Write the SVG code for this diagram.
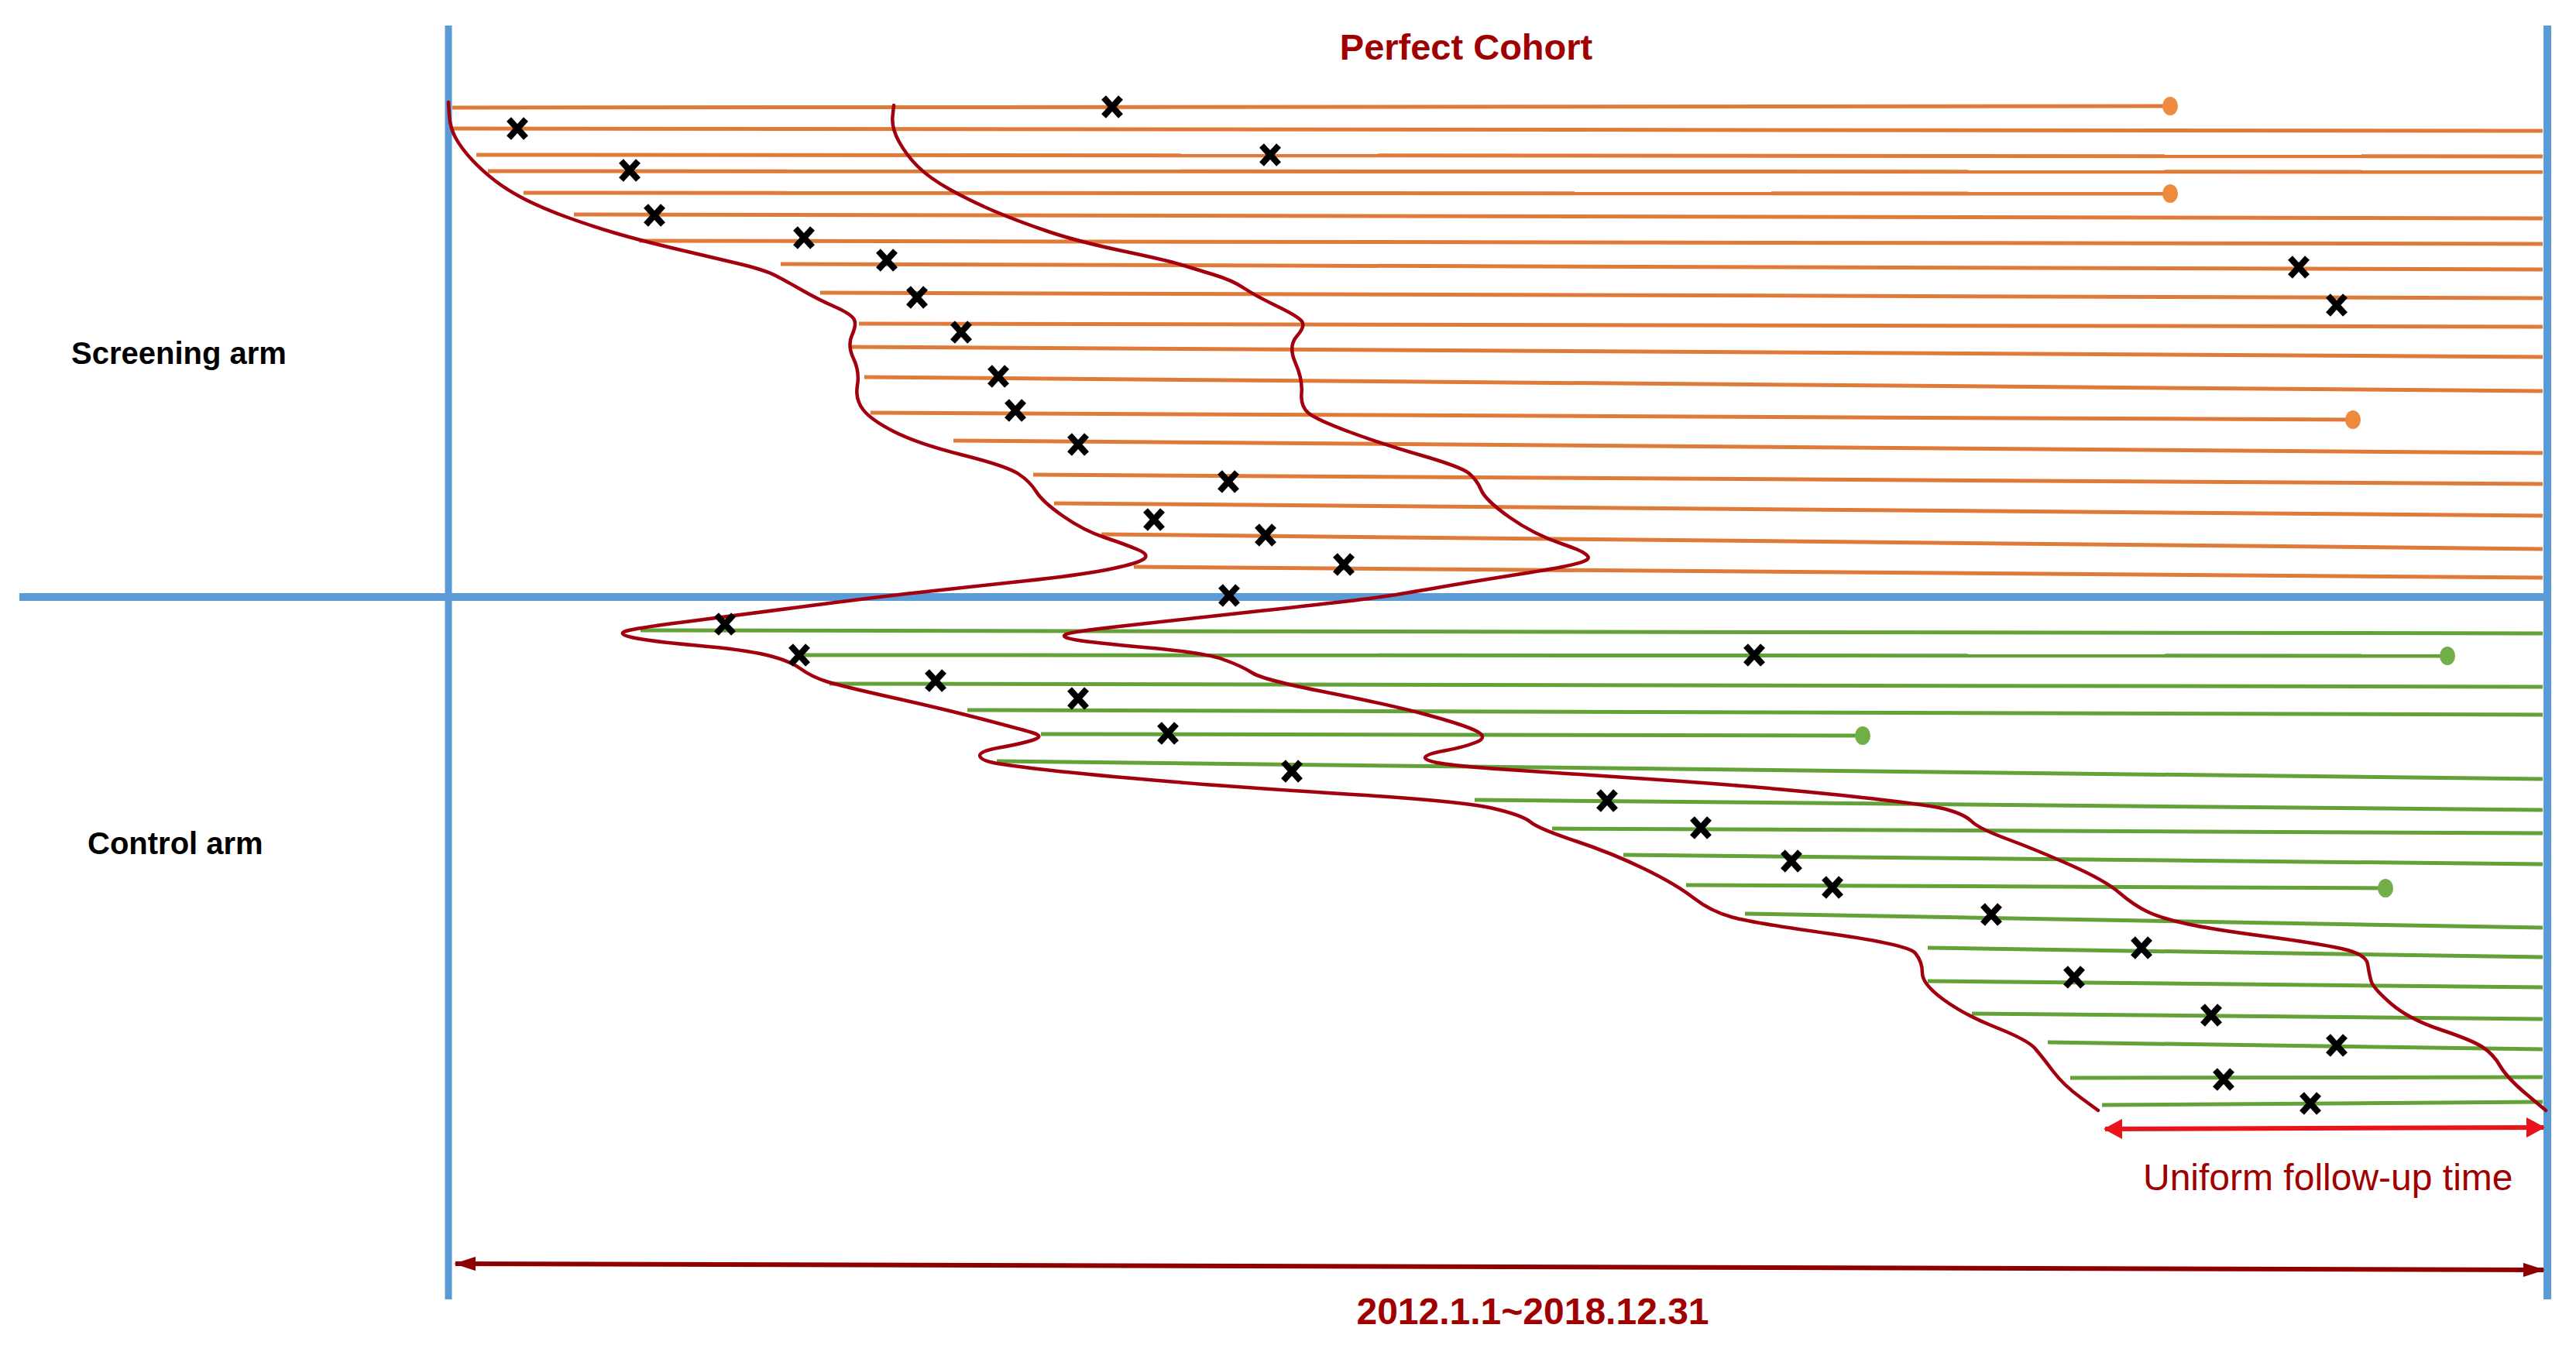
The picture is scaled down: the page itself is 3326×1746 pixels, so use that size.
<svg xmlns="http://www.w3.org/2000/svg" width="3326" height="1746" viewBox="0 0 3326 1746">
<style>
.axis{stroke:#5B9BD5;fill:none}
.or{stroke:#DF7A38;stroke-width:5;fill:none}
.gr{stroke:#62A238;stroke-width:5;fill:none}
.curve{stroke:#A3000F;stroke-width:4.5;fill:none;stroke-linejoin:round;stroke-linecap:round}
.odot{fill:#EE8A3E}
.gdot{fill:#71AE48}
.lbl{font-family:"Liberation Sans",Arial,sans-serif;font-weight:bold;fill:#000;font-size:40px}
.red{font-family:"Liberation Sans",Arial,sans-serif;fill:#A00000}
</style>
<defs>
<path id="x" d="M-11,-12 L11,12 M11,-12 L-11,12" stroke="#000" stroke-width="8" fill="none"/>
<marker id="ahDark" viewBox="0 0 28 18" refX="26" refY="9" markerWidth="28" markerHeight="18" markerUnits="userSpaceOnUse" orient="auto-start-reverse"><path d="M0,0 L28,9 L0,18 z" fill="#8E0000"/></marker>
<marker id="ahRed" viewBox="0 0 24 26" refX="22" refY="13" markerWidth="24" markerHeight="26" markerUnits="userSpaceOnUse" orient="auto-start-reverse"><path d="M0,0 L24,13 L0,26 z" fill="#E8141A"/></marker>
</defs>
<rect width="3326" height="1746" fill="#fff"/>

<g id="axes">
<line class="axis" x1="579" y1="33" x2="579" y2="1678" stroke-width="9"/>
<line class="axis" x1="3289" y1="33" x2="3289" y2="1678" stroke-width="10"/>
<line class="axis" x1="25" y1="771" x2="3294" y2="771" stroke-width="10"/>
</g>

<g id="screening-lines">
<line class="or" x1="584" y1="139" x2="2802" y2="137"/>
<line class="or" x1="584" y1="166" x2="3283" y2="169"/>
<line class="or" x1="615" y1="200" x2="3283" y2="202"/>
<line class="or" x1="630" y1="221" x2="3283" y2="222"/>
<line class="or" x1="676" y1="249" x2="2802" y2="250"/>
<line class="or" x1="741" y1="277" x2="3283" y2="282"/>
<line class="or" x1="825" y1="311" x2="3283" y2="315"/>
<line class="or" x1="1008" y1="341" x2="3283" y2="348"/>
<line class="or" x1="1059" y1="378" x2="3283" y2="385"/>
<line class="or" x1="1109" y1="418" x2="3283" y2="422"/>
<line class="or" x1="1097" y1="448" x2="3283" y2="461"/>
<line class="or" x1="1116" y1="487" x2="3283" y2="505"/>
<line class="or" x1="1124" y1="533" x2="3038" y2="542"/>
<line class="or" x1="1231" y1="569" x2="3283" y2="585"/>
<line class="or" x1="1334" y1="613" x2="3283" y2="625"/>
<line class="or" x1="1361" y1="650" x2="3283" y2="666"/>
<line class="or" x1="1422" y1="690" x2="3283" y2="709"/>
<line class="or" x1="1464" y1="732" x2="3283" y2="746"/>
<ellipse class="odot" cx="2802" cy="137" rx="10" ry="12"/>
<ellipse class="odot" cx="2802" cy="250" rx="10" ry="12"/>
<ellipse class="odot" cx="3038" cy="542" rx="10" ry="12"/>
</g>

<g id="control-lines">
<line class="gr" x1="827" y1="814" x2="3283" y2="818"/>
<line class="gr" x1="1038" y1="846" x2="3160" y2="847"/>
<line class="gr" x1="1071" y1="883" x2="3283" y2="887"/>
<line class="gr" x1="1249" y1="917" x2="3283" y2="923"/>
<line class="gr" x1="1344" y1="948" x2="2405" y2="950"/>
<line class="gr" x1="1287" y1="983" x2="3283" y2="1006"/>
<line class="gr" x1="1904" y1="1033" x2="3283" y2="1046"/>
<line class="gr" x1="2004" y1="1070" x2="3283" y2="1076"/>
<line class="gr" x1="2096" y1="1104" x2="3283" y2="1116"/>
<line class="gr" x1="2177" y1="1143" x2="3080" y2="1147"/>
<line class="gr" x1="2253" y1="1180" x2="3283" y2="1198"/>
<line class="gr" x1="2489" y1="1224" x2="3283" y2="1236"/>
<line class="gr" x1="2489" y1="1267" x2="3283" y2="1275"/>
<line class="gr" x1="2546" y1="1309" x2="3283" y2="1316"/>
<line class="gr" x1="2644" y1="1346" x2="3283" y2="1355"/>
<line class="gr" x1="2673" y1="1392" x2="3283" y2="1391"/>
<line class="gr" x1="2714" y1="1427" x2="3283" y2="1423"/>
<ellipse class="gdot" cx="3160" cy="847" rx="10" ry="12"/>
<ellipse class="gdot" cx="2405" cy="950" rx="10" ry="12"/>
<ellipse class="gdot" cx="3080" cy="1147" rx="10" ry="12"/>
</g>

<g id="curves">
<path class="curve" d="M579,132 L580,148.5 Q581,165 588.5,178.5 Q596,192 609.5,206.5 Q623,221 640,234 Q657,247 680,258.5 Q703,270 733.5,281 Q764,292 794.5,301 Q825,310 871,321 Q917,332 951.5,340 Q986,348 1001.5,356 Q1017,364 1036,375 Q1055,386 1077.5,396 Q1100,406 1103,413 Q1106,420 1100,433 Q1094,446 1102,463 Q1110,480 1107,497.5 Q1104,515 1114,528.5 Q1124,542 1154.5,557.5 Q1185,573 1242.5,587.5 Q1300,602 1315,612 Q1330,622 1338,635 Q1346,648 1372.5,666.5 Q1399,685 1426,694 Q1453,703 1469.5,710 Q1486,717 1475,723 Q1464,729 1428,736 Q1392,743 1321,750.5 Q1250,758 1187,765 Q1124,772 1028.5,784.5 Q933,797 881.5,803.5 Q830,810 812,814 Q794,818 815.5,823 Q837,828 899,833.5 Q961,839 990,846 Q1019,853 1033.5,863.5 Q1048,874 1067,880 Q1086,886 1153,901 Q1220,916 1267.5,928.5 Q1315,941 1332.5,946 Q1350,951 1333,956 Q1316,961 1290.5,965.5 Q1265,970 1265,975.5 Q1265,981 1280.5,984.5 Q1296,988 1353.5,994.5 Q1411,1001 1507,1009 Q1603,1017 1746.5,1026 Q1890,1035 1928,1044 Q1966,1053 1976,1061.5 Q1986,1070 2034,1086 Q2082,1102 2123,1122 Q2164,1142 2186.5,1159.5 Q2209,1177 2236.5,1184.5 Q2264,1192 2364,1206 Q2464,1220 2473,1231 Q2482,1242 2482,1256.5 Q2482,1271 2509.5,1291 Q2537,1311 2577.5,1327 Q2618,1343 2627.5,1354 Q2637,1365 2650.5,1383 Q2664,1401 2686.5,1417.5 L2709,1434"/>
<path class="curve" d="M1154,136 L1152.5,150.5 Q1151,165 1160.5,182.5 Q1170,200 1185,215 Q1200,230 1227,245 Q1254,260 1284.5,273 Q1315,286 1353.5,299 Q1392,312 1449,324 Q1506,336 1525.5,342 Q1545,348 1568,355 Q1591,362 1606,372 Q1621,382 1648,395 Q1675,408 1680.5,414.5 Q1686,421 1674.5,434 Q1663,447 1672.5,468.5 Q1682,490 1680.5,507.5 Q1679,525 1689.5,533.5 Q1700,542 1741.5,557.5 Q1783,573 1835,588 Q1887,603 1897,611.5 Q1907,620 1912.5,633 Q1918,646 1949,668 Q1980,690 2018.5,703 Q2057,716 2049.5,722.5 Q2042,729 1974.5,739.5 Q1907,750 1855.5,759 Q1804,768 1775,772 Q1746,776 1626.5,789 Q1507,802 1444.5,809 Q1382,816 1375.5,819.5 Q1369,823 1390,826.5 Q1411,830 1483,836.5 Q1555,843 1579,851.5 Q1603,860 1617,869 Q1631,878 1712.5,894 Q1794,910 1842,923 Q1890,936 1906,944 Q1922,952 1906,958.5 Q1890,965 1865,969.5 Q1840,974 1840,978.5 Q1840,983 1865,986.5 Q1890,990 1940.5,993.5 Q1991,997 2127.5,1006 Q2264,1015 2377.5,1027 Q2491,1039 2514,1045.5 Q2537,1052 2546,1061 Q2555,1070 2591.5,1083.5 Q2628,1097 2673,1117 Q2718,1137 2736.5,1153 Q2755,1169 2773,1177.5 Q2791,1186 2823,1193 Q2855,1200 2923,1209 Q2991,1218 3023,1225 Q3055,1232 3057,1245 Q3059,1258 3061.5,1267 Q3064,1276 3087,1296 Q3110,1316 3150.5,1329.5 Q3191,1343 3205,1352 Q3219,1361 3228,1376.5 Q3237,1392 3262,1413 L3287,1434"/>
</g>

<g id="events">
<use href="#x" x="1436" y="138"/>
<use href="#x" x="668" y="166"/>
<use href="#x" x="1640" y="200"/>
<use href="#x" x="813" y="220"/>
<use href="#x" x="845" y="278"/>
<use href="#x" x="1038" y="307"/>
<use href="#x" x="1145" y="336"/>
<use href="#x" x="1184" y="384"/>
<use href="#x" x="1241" y="429"/>
<use href="#x" x="1289" y="486"/>
<use href="#x" x="1311" y="530"/>
<use href="#x" x="1392" y="574"/>
<use href="#x" x="1586" y="622"/>
<use href="#x" x="1490" y="671"/>
<use href="#x" x="1634" y="691"/>
<use href="#x" x="1735" y="729"/>
<use href="#x" x="1587" y="769"/>
<use href="#x" x="2968" y="345"/>
<use href="#x" x="3017" y="394"/>
<use href="#x" x="936" y="806"/>
<use href="#x" x="1032" y="846"/>
<use href="#x" x="1208" y="879"/>
<use href="#x" x="1392" y="902"/>
<use href="#x" x="1508" y="947"/>
<use href="#x" x="1668" y="996"/>
<use href="#x" x="2265" y="846"/>
<use href="#x" x="2075" y="1034"/>
<use href="#x" x="2196" y="1069"/>
<use href="#x" x="2313" y="1112"/>
<use href="#x" x="2366" y="1146"/>
<use href="#x" x="2571" y="1181"/>
<use href="#x" x="2765" y="1224"/>
<use href="#x" x="2678" y="1262"/>
<use href="#x" x="2855" y="1311"/>
<use href="#x" x="3017" y="1350"/>
<use href="#x" x="2871" y="1394"/>
<use href="#x" x="2983" y="1425"/>
</g>

<g id="spans">
<line x1="2718" y1="1458" x2="3284" y2="1456" stroke="#E8141A" stroke-width="6" marker-start="url(#ahRed)" marker-end="url(#ahRed)"/>
<line x1="588" y1="1632" x2="3284" y2="1640" stroke="#8E0000" stroke-width="6" marker-start="url(#ahDark)" marker-end="url(#ahDark)"/>
</g>

<g id="labels">
<text class="red" x="1893" y="77" font-size="47" font-weight="bold" text-anchor="middle">Perfect Cohort</text>
<text class="lbl" x="92" y="470">Screening arm</text>
<text class="lbl" x="113" y="1103">Control arm</text>
<text class="red" x="2767" y="1537" font-size="48" fill="#9A0A10">Uniform follow-up time</text>
<text class="red" x="1979" y="1710" font-size="48" font-weight="bold" text-anchor="middle">2012.1.1~2018.12.31</text>
</g>
</svg>
